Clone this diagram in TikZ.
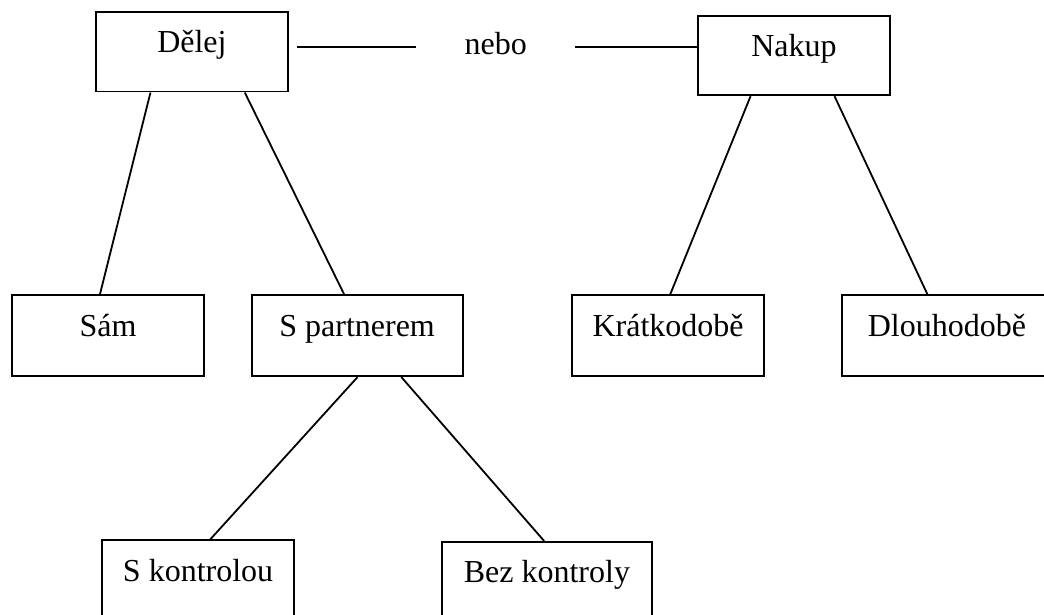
\documentclass[tikz,border=0pt]{standalone}
\usepackage{fontspec}
\setmainfont{Liberation Serif}
\usetikzlibrary{calc}
\begin{document}
\begin{tikzpicture}[x=0.5pt,y=-0.5pt,
  every node/.style={font=\fontsize{16pt}{19pt}\selectfont},
  box/.style={draw,line width=0.9pt,rectangle,inner sep=0pt,text height=20.5pt,text depth=20pt,anchor=north west},
  lowbox/.style={draw,line width=0.9pt,rectangle,inner sep=0pt,text height=20.4pt,text depth=40pt,anchor=north west},
  conn/.style={line width=0.9pt}]
\useasboundingbox (0,0) rectangle (1044,615);
\clip (0,0) rectangle (1044,615);
\node[box,minimum width=96.3pt,text depth=19.35pt] (dele) at (94.7,11) {Dělej};
\node[box,minimum width=96.3pt,text depth=19.5pt,text height=20.2pt] (nakup) at (696.7,15) {Nakup};
\node[box,minimum width=96.2pt] (sam) at (11,294.3) {Sám};
\node[box,minimum width=105.5pt] (spart) at (250.7,294.3) {S partnerem};
\node[box,minimum width=96.2pt] (kratko) at (571,294.3) {Krátkodobě};
\node[box,minimum width=105pt] (dlouho) at (841,294.3) {Dlouhodobě};
\node[lowbox,minimum width=96.2pt] (skontr) at (101,539.3) {S kontrolou};
\node[lowbox,minimum width=105pt] (bezk) at (441,541) {Bez kontroly};
\node[inner sep=0pt,minimum width=79.2pt,text height=8.3pt,text depth=0pt] (nebo) at (495.8,46.7) {nebo};
\draw[conn] ([xshift=4pt]dele.east |- nebo.west) -- (nebo.west);
\draw[conn] (nebo.east) -- (nakup.west |- nebo.east);
\draw[conn] ($(dele.south west)!0.287!(dele.south east)$) -- ($(sam.north west)!0.458!(sam.north east)$);
\draw[conn] ($(dele.south west)!0.772!(dele.south east)$) -- ($(spart.north west)!0.439!(spart.north east)$);
\draw[conn] ($(spart.south west)!0.502!(spart.south east)$) -- ($(skontr.north west)!0.563!(skontr.north east)$);
\draw[conn] ($(spart.south west)!0.708!(spart.south east)$) -- ($(bezk.north west)!0.487!(bezk.north east)$);
\draw[conn] ($(nakup.south west)!0.277!(nakup.south east)$) -- ($(kratko.north west)!0.511!(kratko.north east)$);
\draw[conn] ($(nakup.south west)!0.709!(nakup.south east)$) -- ($(dlouho.north west)!0.408!(dlouho.north east)$);
\end{tikzpicture}
\end{document}
